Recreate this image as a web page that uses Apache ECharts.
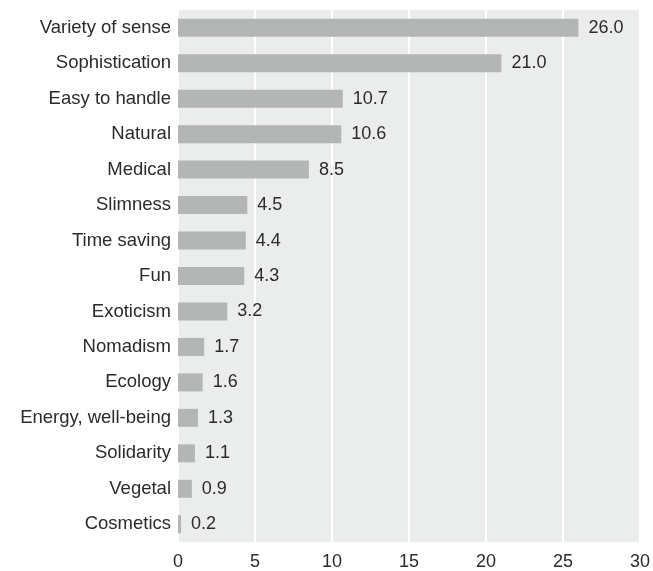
<!DOCTYPE html>
<html><head><meta charset="utf-8">
<script src="https://cdn.jsdelivr.net/npm/echarts@6/dist/echarts.min.js"></script>
<style>html,body{margin:0;padding:0;background:#fff}#c{width:653px;height:571px}</style>
</head><body><div id="c"></div>
<script>
const categories = ["Variety of sense","Sophistication","Easy to handle","Natural","Medical","Slimness","Time saving","Fun","Exoticism","Nomadism","Ecology","Energy, well-being","Solidarity","Vegetal","Cosmetics"];
const values = [26.0,21.0,10.7,10.6,8.5,4.5,4.4,4.3,3.2,1.7,1.6,1.3,1.1,0.9,0.2];
const xTicks = [0,5,10,15,20,25,30];
const font = "'Liberation Sans', Arial, sans-serif";
const chart = echarts.init(document.getElementById('c'));
chart.setOption({
  animation:false,
  grid:{left:178,right:13,top:10,bottom:28,show:true,backgroundColor:'#ebecec',borderWidth:0,containLabel:false},
  xAxis:{type:'value',min:xTicks[0],max:xTicks[xTicks.length-1],interval:5,
    axisLine:{show:false},axisTick:{show:false},
    axisLabel:{color:'#2b2b2b',fontSize:18,fontFamily:font,margin:11},
    splitLine:{show:true,lineStyle:{color:'#ffffff',width:2}}},
  yAxis:{type:'category',inverse:true,data:categories,
    axisLine:{show:false},axisTick:{show:false},
    axisLabel:{color:'#2b2b2b',fontSize:18.5,fontFamily:font,margin:7},
    splitLine:{show:false}},
  series:[{type:'bar',data:values,barWidth:18,
    itemStyle:{color:'#b4b5b5'},
    label:{show:true,position:'right',distance:10,color:'#2b2b2b',fontSize:18,fontFamily:font,
      formatter:p=>p.value.toFixed(1)}}]
});
</script></body></html>
